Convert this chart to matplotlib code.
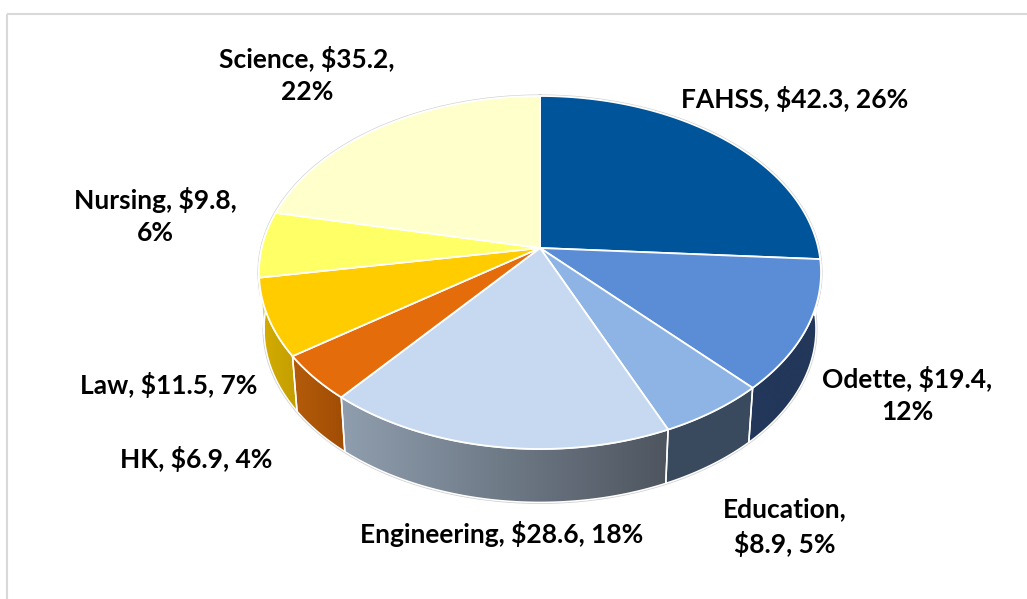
import numpy as np
import matplotlib
matplotlib.use("Agg")
import matplotlib.pyplot as plt
from matplotlib.patches import Polygon, Rectangle
from matplotlib.colors import LinearSegmentedColormap

plt.rcParams['font.family'] = ['Lato', 'DejaVu Sans']

# ---- data ----
names = ["FAHSS", "Odette", "Education", "Engineering", "HK", "Law", "Nursing", "Science"]
values = [42.3, 19.4, 8.9, 28.6, 6.9, 11.5, 9.8, 35.2]
shares = [26, 12, 5, 18, 4, 7, 6, 22]
top_colors = ["#00549A", "#5A8DD6", "#8EB4E6", "#C6D9F1", "#E46C0A", "#FFCC00", "#FFFF66", "#FFFFCC"]
side_left = ["#003A6B", "#22375A", "#3A4A5E", "#8F9EAE", "#B45C0A", "#D6AD00", "#D6D655", "#D6D6AC"]
side_right = ["#003A6B", "#22375A", "#3A4A5E", "#4E555F", "#A04C04", "#C29E00", "#D6D655", "#D6D6AC"]
label_lines = [
    ["FAHSS, $42.3, 26%"],
    ["Odette, $19.4,", "12%"],
    ["Education,", "$8.9, 5%"],
    ["Engineering, $28.6, 18%"],
    ["HK, $6.9, 4%"],
    ["Law, $11.5, 7%"],
    ["Nursing, $9.8,", "6%"],
    ["Science, $35.2,", "22%"],
]
label_pos = [(795, 99), (907, 395), (785, 527), (502, 534), (196, 459), (169, 385), (155, 216), (307, 75)]

# ---- projection of the tilted disc (perspective) ----
CX, CY = 540.0, 248.0
A, B, K = 173.1, 278.3, 0.1388
SCALE, BOTTOM_Y = 0.982, 305.0


def rim(phi, bottom=False):
    u, v = np.sin(phi), np.cos(phi)
    d = 1 + K * v
    s, yc = (SCALE, BOTTOM_Y) if bottom else (1.0, CY)
    return np.column_stack([CX + s * B * u / d, yc - s * A * v / d])


fig = plt.figure(figsize=(10.27, 5.99), dpi=100)
ax = fig.add_axes([0, 0, 1, 1])
ax.set_xlim(0, 1027)
ax.set_ylim(599, 0)
ax.axis("off")

ax.add_patch(Rectangle((7, 14), 1100, 700, fill=False, ec="#D9D9D9", lw=1.5, zorder=0))

edges = np.radians(np.concatenate([[0], np.cumsum(values)]) / sum(values) * 360)

# faint outer outline
whole = np.linspace(0, 2 * np.pi, 400)
ax.plot(*rim(whole).T, color="#CFCFCF", lw=2.2, zorder=1)
front = np.linspace(np.pi / 2, 3 * np.pi / 2, 300)
ax.plot(*rim(front, True).T, color="#CFCFCF", lw=2.2, zorder=1)

# side walls
for i in range(len(values)):
    a0, a1 = edges[i], edges[i + 1]
    lo, hi = max(a0, np.pi / 2 - 0.1), min(a1, 3 * np.pi / 2 + 0.1)
    if hi <= lo:
        continue
    t = np.linspace(lo, hi, 80)
    poly = np.vstack([rim(t), rim(t[::-1], True)])
    patch = Polygon(poly, closed=True, fc="none", ec="none", zorder=2)
    ax.add_patch(patch)
    cmap = LinearSegmentedColormap.from_list("s", [side_left[i], side_right[i]])
    x0, x1, y0, y1 = poly[:, 0].min(), poly[:, 0].max(), poly[:, 1].min(), poly[:, 1].max()
    im = ax.imshow(np.linspace(0, 1, 256)[None, :], cmap=cmap, extent=(x0, x1, y1, y0),
                   aspect="auto", zorder=2)
    im.set_clip_path(patch)
    ax.add_patch(Polygon(poly, closed=True, fc="none", ec="white", lw=1.1, zorder=3))
ax.set_xlim(0, 1027)
ax.set_ylim(599, 0)

# top faces
for i in range(len(values)):
    t = np.linspace(edges[i], edges[i + 1], 120)
    poly = np.vstack([[CX, CY], rim(t)])
    ax.add_patch(Polygon(poly, closed=True, fc=top_colors[i], ec="white", lw=1.3,
                         joinstyle="round", zorder=4))

# labels
for lines, (x, y) in zip(label_lines, label_pos):
    ax.text(x, y, "\n".join(lines), ha="center", va="center", fontsize=19,
            fontweight="bold", color="black", linespacing=1.42, zorder=5)

fig.savefig("out.png", dpi=100)
